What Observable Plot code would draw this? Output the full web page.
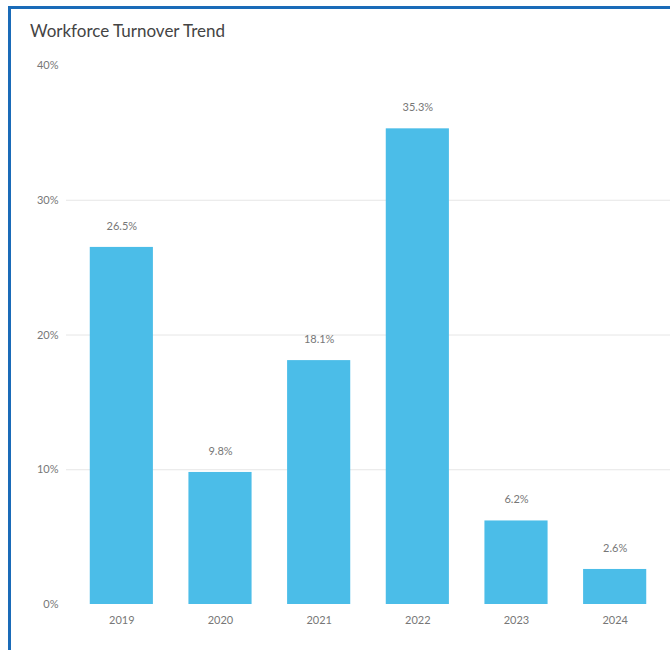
<!DOCTYPE html>
<html>
<head>
<meta charset="utf-8">
<script src="https://cdn.jsdelivr.net/npm/d3@7"></script>
<script src="https://cdn.jsdelivr.net/npm/@observablehq/plot@0.6"></script>
<style>
  html, body { margin: 0; padding: 0; background: #fff; width: 670px; height: 650px; overflow: hidden; }
  #frame { position: absolute; left: 8px; top: 6px; right: -10px; bottom: -10px;
           border-left: 3px solid #1a6bb8; border-top: 3px solid #1a6bb8; }
  #title { position: absolute; left: 30px; top: 20px; font-family: Lato, "Open Sans", sans-serif;
           font-size: 17px; color: #444; white-space: nowrap; }
  #chart { position: absolute; left: 0; top: 50px; }
  #chart svg { font-family: Lato, "Open Sans", sans-serif; }
</style>
</head>
<body>
<div id="frame"></div>
<div id="title">Workforce Turnover Trend</div>
<div id="chart"></div>
<script>
const years = ["2019", "2020", "2021", "2022", "2023", "2024"];
const turnover = [0.265, 0.098, 0.181, 0.353, 0.062, 0.026];
const gridTicks = [0.1, 0.2, 0.3];
const yTicks = [0, 0.1, 0.2, 0.3, 0.4];

const data = years.map((y, i) => ({year: y, value: turnover[i]}));

const chart = Plot.plot({
  width: 670,
  height: 600,
  marginLeft: 72,
  marginRight: 6,
  marginTop: 15,
  marginBottom: 46,
  style: {fontSize: "11px", color: "#777", background: "transparent"},
  x: {domain: years, paddingInner: 0.36, paddingOuter: 0.18, round: false, label: null, tickSize: 0, tickPadding: 12},
  y: {domain: [0, 0.4], ticks: yTicks, tickFormat: d3.format(".0%"), label: null, tickSize: 0, tickPadding: 14},
  marks: [
    Plot.ruleY(gridTicks, {stroke: "#e6e6e6", strokeWidth: 1, insetLeft: -6, insetRight: -6}),
    Plot.barY(data, {x: "year", y: "value", fill: "#4bbde8"}),
    Plot.text(data, {x: "year", y: "value", text: d => d3.format(".1%")(d.value), dy: -21, fill: "#777", fontSize: 11})
  ]
});
document.getElementById("chart").appendChild(chart);
</script>
</body>
</html>
